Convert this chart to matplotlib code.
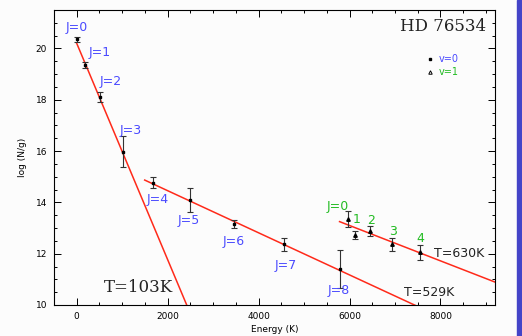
import matplotlib.pyplot as plt
from matplotlib.ticker import MultipleLocator
import numpy as np

# v=0 rotational levels
e_v0 = [0, 176, 505, 1011, 1670, 2484, 3450, 4550, 5780]
n_v0 = [20.35, 19.35, 18.1, 15.98, 14.77, 14.09, 13.17, 12.36, 11.4]
err_v0 = [0.1, 0.12, 0.2, 0.6, 0.2, 0.48, 0.15, 0.25, 0.75]
lab_v0 = ['J=0', 'J=1', 'J=2', 'J=3', 'J=4', 'J=5', 'J=6', 'J=7', 'J=8']
labx_v0 = [0, 505, 747, 1187, 1780, 2462, 3450, 4593, 5758]
laby_v0 = [20.82, 19.84, 18.72, 16.8, 14.12, 13.3, 12.46, 11.52, 10.55]

# v=1 levels
e_v1 = [5956, 6130, 6440, 6923, 7560]
n_v1 = [13.35, 12.73, 12.87, 12.37, 12.05]
err_v1 = [0.3, 0.15, 0.2, 0.25, 0.3]
lab_v1 = ['J=0', '1', '2', '3', '4']
labx_v1 = [5736, 6154, 6484, 6945, 7560]
laby_v1 = [13.85, 13.35, 13.3, 12.88, 12.6]

# excitation temperature fits: (T, start E, start logN, end E)
fits = [(103, 0, 20.2, 2450), (529, 1495, 14.87, 7500), (630, 5780, 13.25, 9300)]

blue = '#4a4aff'
green = '#22bb22'

fig = plt.figure(figsize=(5.22, 3.36), dpi=100)
fig.patch.set_facecolor('#fcfcfc')
ax = fig.add_axes([0.1034, 0.0923, 0.845, 0.878])
ax.set_facecolor('#fcfcfc')

for T, e0, y0, e1 in fits:
    xx = np.array([e0, e1])
    ax.plot(xx, y0 - np.log10(np.e) / T * (xx - e0), color='#ff2a1a', lw=1.1, zorder=2)

ax.errorbar(e_v0, n_v0, yerr=err_v0, fmt='s', ms=2, color='black', ecolor='#333333',
            elinewidth=0.8, capsize=2.5, capthick=0.8, zorder=3)
ax.errorbar(e_v1, n_v1, yerr=err_v1, fmt='^', ms=2.5, color='black', ecolor='#333333',
            elinewidth=0.8, capsize=2.5, capthick=0.8, zorder=3)

for t, x, y in zip(lab_v0, labx_v0, laby_v0):
    ax.text(x, y, t, color=blue, fontsize=9, ha='center', va='center')
for t, x, y in zip(lab_v1, labx_v1, laby_v1):
    ax.text(x, y, t, color=green, fontsize=9, ha='center', va='center')

ax.text(8967, 12.02, 'T=630K', fontsize=9, ha='right', va='center', color='#222222')
ax.text(7187, 10.5, 'T=529K', fontsize=9, ha='left', va='center', color='#222222')
ax.text(593, 10.7, 'T=103K', fontsize=12, ha='left', va='center', family='DejaVu Serif', color='#222222')
ax.text(9000, 20.86, 'HD 76534', fontsize=12, ha='right', va='center', family='DejaVu Serif', color='#222222')

# legend
ax.plot([7780], [19.58], 's', ms=2, color='black')
ax.plot([7780], [19.08], '^', ms=2.5, mfc='none', mec='black', mew=0.7)
ax.text(7960, 19.58, 'v=0', color=blue, fontsize=7, va='center')
ax.text(7960, 19.08, 'v=1', color=green, fontsize=7, va='center')

ax.set_xlim(-500, 9200)
ax.set_ylim(10, 21.5)
ax.xaxis.set_major_locator(MultipleLocator(2000))
ax.xaxis.set_minor_locator(MultipleLocator(500))
ax.yaxis.set_major_locator(MultipleLocator(2))
ax.yaxis.set_minor_locator(MultipleLocator(0.5))
ax.tick_params(which='both', direction='in', top=True, right=True, labelsize=6.5, width=0.7, pad=5)
ax.tick_params(which='major', length=5)
ax.tick_params(which='minor', length=2.5)
for s in ax.spines.values():
    s.set_linewidth(0.8)
ax.set_xlabel('Energy (K)', fontsize=6.5, labelpad=3)
ax.set_ylabel('log (N/g)', fontsize=6.5, labelpad=6)

# blue side bar
fig.patches.append(plt.Rectangle((0.99, 0), 0.01, 1, transform=fig.transFigure,
                                 color='#4444c8', zorder=0))

fig.savefig('out.png', dpi=100)
